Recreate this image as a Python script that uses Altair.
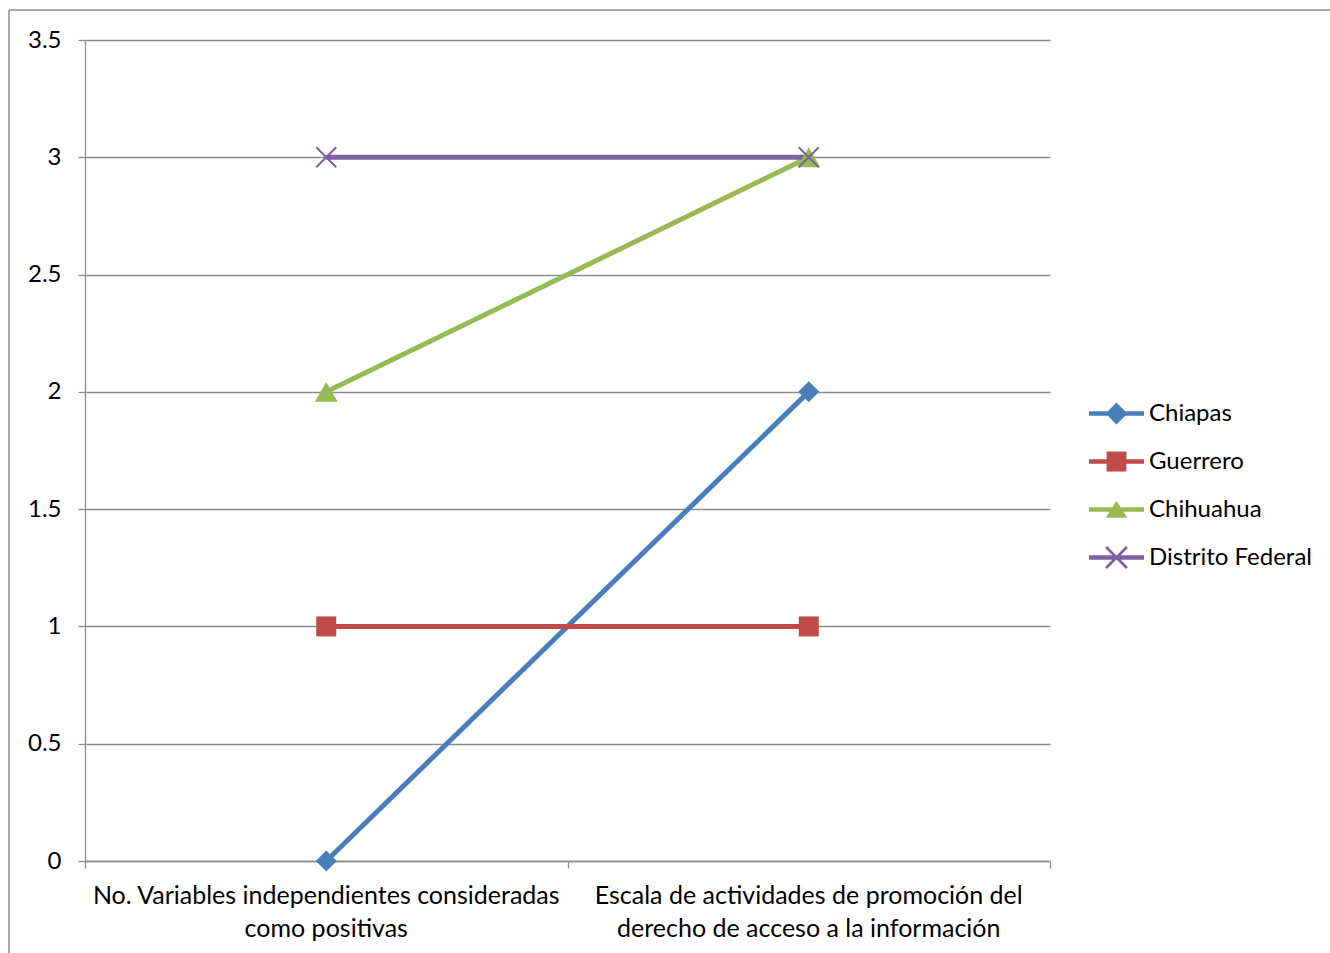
import altair as alt
import pandas as pd

# ---- data ----
categories = [
    "No. Variables independientes consideradas\ncomo positivas",
    "Escala de actividades de promoción del\nderecho de acceso a la información",
]
series = ["Chiapas", "Guerrero", "Chihuahua", "Distrito Federal"]
chiapas = [0, 2]
guerrero = [1, 1]
chihuahua = [2, 3]
distrito_federal = [3, 3]
colors = ["#4A7EBB", "#BE4B48", "#98B954", "#7D60A0"]
y_ticks = [0, 0.5, 1, 1.5, 2, 2.5, 3, 3.5]

series_values = [chiapas, guerrero, chihuahua, distrito_federal]
rows = []
for s, vals in zip(series, series_values):
    for i, v in enumerate(vals):
        rows.append({"series": s, "pos": i + 0.5, "value": v})
df = pd.DataFrame(rows)
cat_df = pd.DataFrame({"pos": [i + 0.5 for i in range(len(categories))], "label": categories})

FONT = "Lato"
GRID = "#8c8c8c"
W, H = 965, 821

xscale = alt.Scale(domain=[0, 2], nice=False, zero=False)
yscale = alt.Scale(domain=[0, 3.5], nice=False)
cscale = alt.Scale(domain=series, range=colors)


def color_enc():
    return alt.Color("series:N", scale=cscale, title=None)


x_enc = alt.X("pos:Q", scale=xscale, axis=alt.Axis(values=[0, 1, 2], labels=False, grid=False,
                                                  ticks=True, tickSize=7, tickColor=GRID,
                                                  tickWidth=1.3, domainColor=GRID, domainWidth=1.3,
                                                  title=None))
y_enc = alt.Y("value:Q", scale=yscale, axis=alt.Axis(values=y_ticks, format="~g", grid=True,
                                                    gridColor=GRID, gridWidth=1.3, tickSize=7,
                                                    tickColor=GRID, tickWidth=1.3, domainColor=GRID,
                                                    domainWidth=1.3, labelFont=FONT, labelFontSize=24,
                                                    labelColor="#000000", labelPadding=17, title=None))

lines = alt.Chart(df).mark_line(strokeWidth=5).encode(
    x=x_enc, y=y_enc, color=color_enc(), order="pos:Q",
)

shape_map = {"Chiapas": ("diamond", 441), "Guerrero": ("square", 400), "Chihuahua": ("triangle-up", 529)}
point_layers = []
for s, (shp, sz) in shape_map.items():
    point_layers.append(
        alt.Chart(df).transform_filter(alt.datum.series == s)
        .mark_point(shape=shp, filled=True, size=sz, opacity=1)
        .encode(x="pos:Q", y="value:Q", color=color_enc())
    )
point_layers.append(
    alt.Chart(df).transform_filter(alt.datum.series == "Distrito Federal")
    .mark_point(shape="M-1,-1L1,1M-1,1L1,-1", filled=False, size=400, strokeWidth=2, opacity=1)
    .encode(x="pos:Q", y="value:Q", color=color_enc())
)

# legend symbol paths: line + marker (filled)
bar = "M-1,-0.08H1V0.08H-1Z"
a, t = 0.38, 0.035
xpath = (f"M{-a+t},{-a-t}L{a+t},{a-t}L{a-t},{a+t}L{-a-t},{-a+t}Z"
         f"M{-a+t},{a+t}L{-a-t},{a-t}L{a-t},{-a-t}L{a+t},{-a+t}Z")
legend_paths = [
    bar + "M0,-0.4L0.4,0L0,0.4L-0.4,0Z",
    bar + "M-0.36,-0.36H0.36V0.36H-0.36Z",
    bar + "M0,-0.32L0.39,0.3H-0.39Z",
    bar + xpath,
]
legend_layer = alt.Chart(df).mark_point(filled=True, opacity=0).encode(
    x="pos:Q", y="value:Q",
    color=color_enc(),
    shape=alt.Shape("series:N", scale=alt.Scale(domain=series, range=legend_paths), title=None),
)

labels = alt.Chart(cat_df).mark_text(font=FONT, fontSize=25, color="#000000", lineBreak="\n",
                                     lineHeight=33, baseline="top", align="center").encode(
    x="pos:Q", text="label:N", y=alt.value(H + 23)
)

frame_df = pd.DataFrame({"a": [0]})
frame_v = alt.Chart(frame_df).mark_rule(color=GRID, strokeWidth=1.5).encode(
    x=alt.value(-76), y=alt.value(-30), y2=alt.value(953))
frame_h = alt.Chart(frame_df).mark_rule(color=GRID, strokeWidth=1.5).encode(
    y=alt.value(-30), x=alt.value(-76), x2=alt.value(1330))

chart = alt.layer(frame_v, frame_h, lines, *point_layers, legend_layer, labels).properties(
    width=W, height=H,
    autosize=alt.AutoSizeParams(type="none"),
    padding={"left": 85, "top": 40, "right": 280, "bottom": 92},
    background="white",
).configure_view(stroke=None).configure_legend(
    orient="none", legendX=1004, legendY=346, symbolSize=3025,
    labelFont=FONT, labelFontSize=24, labelColor="#000000", labelOffset=5, labelLimit=0,
    rowPadding=8, padding=0, symbolStrokeWidth=0, symbolOpacity=1,
)

chart.save("out.html", embed_options={"renderer": "svg", "actions": False})
